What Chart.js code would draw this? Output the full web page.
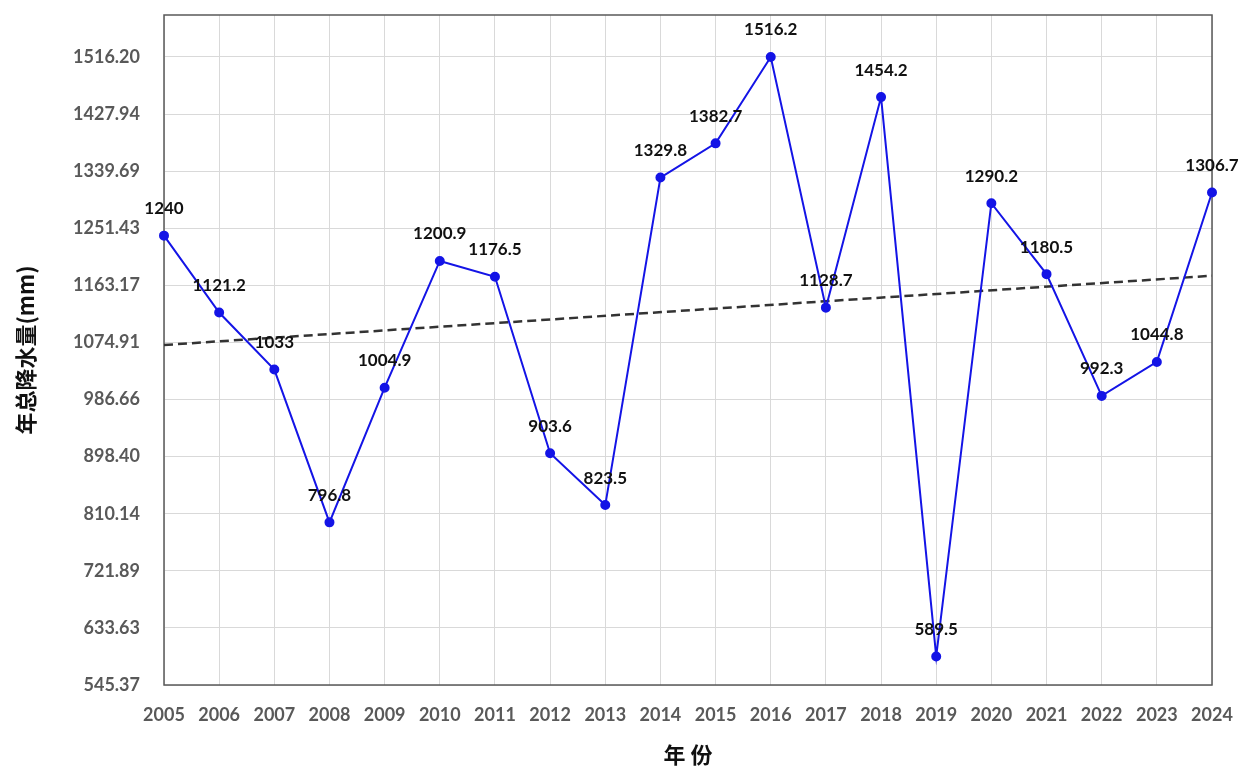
<!DOCTYPE html>
<html>
<head>
<meta charset="utf-8">
<script src="https://cdn.jsdelivr.net/npm/chart.js@4"></script>
<style>
  html, body { margin: 0; padding: 0; background: #fff; }
  #wrap { width: 1246px; height: 772px; }
</style>
</head>
<body>
<div id="wrap"><canvas id="rainChart" width="1246" height="772"></canvas></div>
<script>
// 年总降水量 2005-2024
const years = ['2005', '2006', '2007', '2008', '2009', '2010', '2011', '2012', '2013', '2014',
               '2015', '2016', '2017', '2018', '2019', '2020', '2021', '2022', '2023', '2024'];
const rainfall = [1240, 1121.2, 1033, 796.8, 1004.9, 1200.9, 1176.5, 903.6, 823.5, 1329.8,
                  1382.7, 1516.2, 1128.7, 1454.2, 589.5, 1290.2, 1180.5, 992.3, 1044.8, 1306.7];
const yTicks = [545.37, 633.63, 721.89, 810.14, 898.40, 986.66, 1074.91, 1163.17, 1251.43, 1339.69, 1427.94, 1516.20];
const trendYears = ['2005', '2024'];
const trendValues = [1071, 1178];

const tickFont = { family: 'Lato', size: 18, weight: 'bold' };

// frame around plot area
const framePlugin = {
    id: 'frame',
    beforeDatasetsDraw(chart) {
        const { ctx, chartArea: a } = chart;
        ctx.save();
        ctx.strokeStyle = '#595959';
        ctx.lineWidth = 1.5;
        ctx.strokeRect(a.left, a.top, a.right - a.left, a.bottom - a.top);
        ctx.restore();
    }
};

// value labels above the points
const valueLabels = {
    id: 'valueLabels',
    afterDatasetsDraw(chart) {
        const ctx = chart.ctx;
        const meta = chart.getDatasetMeta(0);
        ctx.save();
        ctx.font = 'bold 17px Lato';
        ctx.fillStyle = '#111';
        ctx.textAlign = 'center';
        ctx.textBaseline = 'middle';
        meta.data.forEach((pt, i) => {
            ctx.fillText(String(rainfall[i]), pt.x, pt.y - 27);
        });
        ctx.restore();
    }
};

const ctx = document.getElementById('rainChart').getContext('2d');
const rainChart = new Chart(ctx, {
    type: 'line',
    data: {
        labels: years,
        datasets: [{
            label: '年总降水量',
            data: rainfall,
            borderColor: '#1414e6',
            backgroundColor: '#1414e6',
            borderWidth: 2,
            pointRadius: 4,
            pointHoverRadius: 4,
            tension: 0
        }, {
            label: '趋势线',
            data: trendYears.map((y, i) => ({ x: y, y: trendValues[i] })),
            borderColor: '#333333',
            borderWidth: 2.5,
            borderDash: [9, 5],
            pointRadius: 0,
            tension: 0
        }]
    },
    options: {
        responsive: false,
        animation: false,
        layout: { padding: { left: 8, right: 34, top: 15, bottom: 0 } },
        plugins: {
            legend: { display: false },
            tooltip: { enabled: false }
        },
        scales: {
            x: {
                offset: false,
                grid: { color: '#d9d9d9', drawTicks: false },
                border: { display: false },
                ticks: { color: '#595959', font: tickFont, padding: 19, maxRotation: 0, autoSkip: false },
                title: {
                    display: true,
                    text: '年 份',
                    color: '#111',
                    font: { family: 'Noto Sans CJK SC', size: 22, weight: 'bold' },
                    padding: { top: 14 }
                },
                afterFit(scale) {
                    scale.height = 87;
                    scale.paddingLeft = 0;
                    scale.paddingRight = 0;
                }
            },
            y: {
                min: 545.37,
                max: 1581.1,
                grid: { color: '#d9d9d9', drawTicks: false },
                border: { display: false },
                afterBuildTicks(scale) {
                    scale.ticks = yTicks.map(v => ({ value: v }));
                },
                ticks: {
                    color: '#595959',
                    font: tickFont,
                    padding: 24,
                    callback: v => Number(v).toFixed(2)
                },
                title: {
                    display: true,
                    text: '年总降水量(mm)',
                    color: '#111',
                    font: { family: 'Noto Sans CJK SC', size: 22, weight: 'bold' },
                    padding: { bottom: 0 }
                },
                afterFit(scale) {
                    scale.width = 156;
                    scale.paddingTop = 0;
                    scale.paddingBottom = 0;
                }
            }
        }
    },
    plugins: [framePlugin, valueLabels]
});
</script>
</body>
</html>
